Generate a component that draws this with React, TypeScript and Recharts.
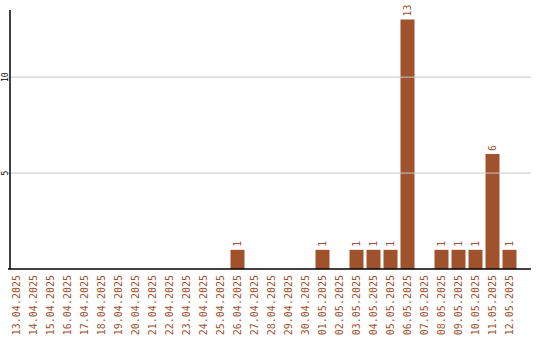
import { BarChart, Bar, XAxis, YAxis, ReferenceLine, LabelList } from 'recharts';

const days = [
  '13.04.2025', '14.04.2025', '15.04.2025', '16.04.2025', '17.04.2025', '18.04.2025',
  '19.04.2025', '20.04.2025', '21.04.2025', '22.04.2025', '23.04.2025', '24.04.2025',
  '25.04.2025', '26.04.2025', '27.04.2025', '28.04.2025', '29.04.2025', '30.04.2025',
  '01.05.2025', '02.05.2025', '03.05.2025', '04.05.2025', '05.05.2025', '06.05.2025',
  '07.05.2025', '08.05.2025', '09.05.2025', '10.05.2025', '11.05.2025', '12.05.2025',
];

const counts = [
  0, 0, 0, 0, 0, 0,
  0, 0, 0, 0, 0, 0,
  0, 1, 0, 0, 0, 0,
  1, 0, 1, 1, 1, 13,
  0, 1, 1, 1, 6, 1,
];

const yTicks = [5, 10];

const data = days.map((day, i) => ({ day, count: counts[i] }));

const BROWN = '#a0522d';
const MONO = '"DejaVu Sans Mono", monospace';

function XTick(props: any) {
  const { x, y, payload } = props;
  const ty = y - 2;
  return (
    <text
      x={x}
      y={ty}
      transform={`rotate(-90 ${x} ${ty})`}
      textAnchor="end"
      dy="0.35em"
      fill={BROWN}
      fontSize={10}
      fontFamily={MONO}
    >
      {payload.value}
    </text>
  );
}

function YTick(props: any) {
  const { y, payload } = props;
  const x = 5;
  return (
    <text
      x={x}
      y={y}
      transform={`rotate(-90 ${x} ${y})`}
      textAnchor="middle"
      dy="0.35em"
      fill="#000"
      fontSize={8}
      fontFamily={MONO}
    >
      {payload.value}
    </text>
  );
}

function BarLabel(props: any) {
  const { x, y, width, value } = props;
  if (!value) return null;
  const cx = x + width / 2;
  const ty = y - 3;
  return (
    <text
      x={cx}
      y={ty}
      transform={`rotate(-90 ${cx} ${ty})`}
      textAnchor="start"
      dy="0.35em"
      fill={BROWN}
      fontSize={10}
      fontFamily={MONO}
    >
      {value}
    </text>
  );
}

export default function App() {
  return (
    <div style={{ position: 'fixed', left: 0, top: 0, width: 540, height: 340, background: '#fff' }}>
      <BarChart
        width={540}
        height={340}
        data={data}
        margin={{ top: 10, right: 9, left: 0, bottom: 0 }}
        barCategoryGap={1.5}
      >
        {yTicks.map((t) => (
          <ReferenceLine key={t} y={t} stroke="#c8c8c8" strokeWidth={1} />
        ))}
        <XAxis
          dataKey="day"
          interval={0}
          height={71}
          tickLine={false}
          axisLine={{ stroke: '#000', strokeWidth: 1.5 }}
          padding={{ left: 0, right: 13 }}
          tick={<XTick />}
        />
        <YAxis
          width={8}
          domain={[0, 13.5]}
          ticks={yTicks}
          tickLine={false}
          axisLine={{ stroke: '#000', strokeWidth: 1.5, transform: 'translate(2,0)' }}
          tick={<YTick />}
        />
        <Bar dataKey="count" fill={BROWN} isAnimationActive={false}>
          <LabelList dataKey="count" content={<BarLabel />} />
        </Bar>
      </BarChart>
    </div>
  );
}
